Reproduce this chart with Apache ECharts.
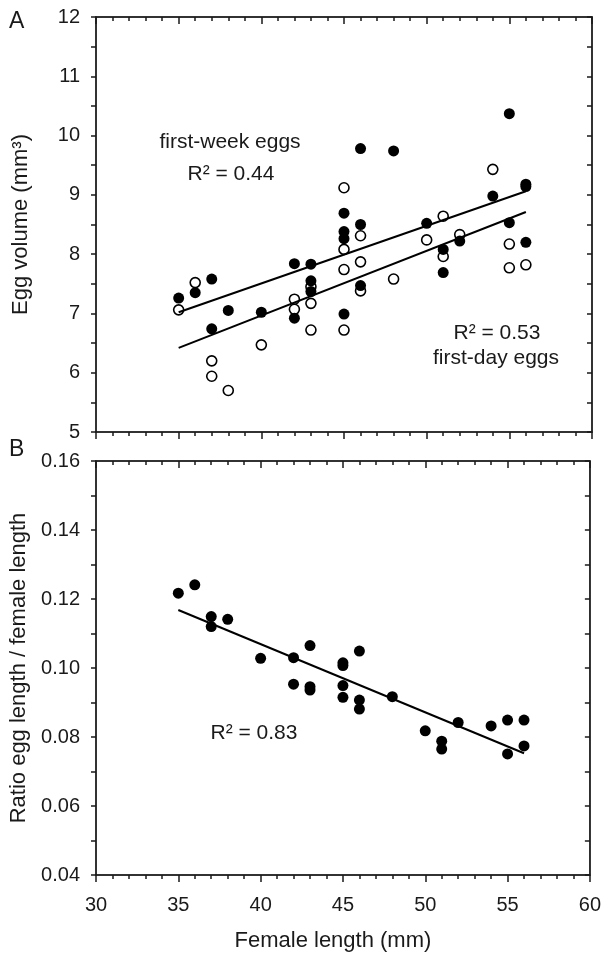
<!DOCTYPE html>
<html>
<head>
<meta charset="utf-8">
<script src="https://cdn.jsdelivr.net/npm/echarts@6/dist/echarts.min.js"></script>
<style>
  html, body { margin: 0; padding: 0; background: #fff; }
  #chart { width: 604px; height: 960px; }
</style>
</head>
<body>
<div id="chart"></div>
<script>
// panel A: egg volume (mm3) vs female length (mm)
var weekEggs = [[35,7.26],[36,7.35],[37,7.58],[37,6.74],[38,7.05],[40,7.02],[42,7.84],[42,6.92],
  [43,7.83],[43,7.55],[43,7.37],[45,8.69],[45,8.38],[45,8.26],[45,6.99],[46,9.78],[46,8.50],[46,7.47],
  [48,9.74],[50,8.52],[51,8.08],[51,7.69],[52,8.22],[54,8.98],[55,10.37],[55,8.53],[56,9.18],[56,9.14],[56,8.20]];
var dayEggs = [[35,7.06],[36,7.52],[37,6.20],[37,5.94],[38,5.70],[40,6.47],[42,7.24],[42,7.07],
  [43,7.45],[43,7.17],[43,6.72],[45,9.12],[45,8.08],[45,7.74],[45,6.72],[46,8.31],[46,7.87],[46,7.38],
  [48,7.58],[50,8.24],[51,8.64],[51,7.96],[52,8.33],[54,9.43],[55,8.17],[55,7.77],[56,7.82]];
var weekFit = [[35,7.02],[56,9.06]];
var dayFit = [[35,6.42],[56,8.71]];

// panel B: ratio egg length / female length
var ratio = [[35,0.1217],[36,0.1241],[37,0.1149],[37,0.1120],[38,0.1141],[40,0.1028],[42,0.1030],[42,0.0953],
  [43,0.1065],[43,0.0946],[43,0.0936],[45,0.1015],[45,0.1007],[45,0.0949],[45,0.0915],[46,0.1049],
  [46,0.0907],[46,0.0881],[48,0.0917],[50,0.0818],[51,0.0788],[51,0.0765],[52,0.0842],[54,0.0832],
  [55,0.0849],[55,0.0751],[56,0.0849],[56,0.0774]];
var ratioFit = [[35,0.1168],[56,0.0753]];

var xRange = [30, 60];
var yRangeA = [5, 12];
var yRangeB = [0.04, 0.16];

var font = 'Liberation Sans, Arial, sans-serif';
var ink = '#1a1a1a';

// every axis is drawn twice (outward + inward ticks) to get crossing ticks
function xAx(grid, inside, labels) {
  var ax = {
    type: 'value', gridIndex: grid, min: xRange[0], max: xRange[1], interval: 5,
    axisLine: { lineStyle: { color: ink, width: 1.5 } },
    axisTick: { inside: inside, length: 7, lineStyle: { color: ink, width: 1.5 } },
    minorTick: { show: true, splitNumber: 5, length: 4, lineStyle: { color: ink, width: 1.5 } },
    axisLabel: { show: labels, color: ink, fontSize: 20, fontFamily: font, margin: 20 },
    splitLine: { show: false }
  };
  if (labels) {
    ax.name = 'Female length (mm)';
    ax.nameLocation = 'middle';
    ax.nameGap = 55;
    ax.nameTextStyle = { color: ink, fontSize: 22, fontFamily: font, padding: [0, 20, 0, 0] };
  }
  return ax;
}
function yAx(grid, inside, labels, range, step, name, fmt) {
  var ax = {
    type: 'value', gridIndex: grid, min: range[0], max: range[1], interval: step,
    axisLine: { lineStyle: { color: ink, width: 1.5 } },
    axisTick: { inside: inside, length: 5, lineStyle: { color: ink, width: 1.5 } },
    minorTick: { show: true, splitNumber: 2, length: 5, lineStyle: { color: ink, width: 1.5 } },
    axisLabel: { show: labels, color: ink, fontSize: 20, fontFamily: font, margin: 16, formatter: fmt },
    splitLine: { show: false }
  };
  if (labels) {
    ax.name = name;
    ax.nameLocation = 'middle';
    ax.nameGap = 64;
    ax.nameTextStyle = { color: ink, fontSize: 22, fontFamily: font };
  }
  return ax;
}

var chart = echarts.init(document.getElementById('chart'));
var option = {
  backgroundColor: '#fff',
  animation: false,
  grid: [
    { left: 96, top: 17, width: 496, height: 415, show: true, borderColor: '#555', borderWidth: 1.5 },
    { left: 96, top: 461, width: 496, height: 414, show: true, borderColor: '#555', borderWidth: 1.5 }
  ],
  xAxis: [xAx(0, false, false), xAx(0, true, false), xAx(1, false, true), xAx(1, true, false)],
  yAxis: [
    yAx(0, false, true, yRangeA, 1, 'Egg volume (mm³)', function (v) { return String(v); }),
    yAx(0, true, false, yRangeA, 1),
    yAx(1, false, true, yRangeB, 0.02, 'Ratio egg length / female length', function (v) { return v.toFixed(2); }),
    yAx(1, true, false, yRangeB, 0.02)
  ],
  series: [
    { type: 'scatter', name: 'first-day eggs', xAxisIndex: 0, yAxisIndex: 0, data: dayEggs,
      symbol: 'circle', symbolSize: 10, z: 3,
      itemStyle: { color: '#fff', borderColor: '#000', borderWidth: 1.6, opacity: 1 } },
    { type: 'scatter', name: 'first-week eggs', xAxisIndex: 0, yAxisIndex: 0, data: weekEggs,
      symbol: 'circle', symbolSize: 11, z: 4, itemStyle: { color: '#000', opacity: 1 } },
    { type: 'line', xAxisIndex: 0, yAxisIndex: 0, data: weekFit, symbol: 'none', z: 5,
      lineStyle: { color: '#000', width: 2 } },
    { type: 'line', xAxisIndex: 0, yAxisIndex: 0, data: dayFit, symbol: 'none', z: 5,
      lineStyle: { color: '#000', width: 2 } },
    { type: 'scatter', xAxisIndex: 2, yAxisIndex: 2, data: ratio,
      symbol: 'circle', symbolSize: 11, z: 4, itemStyle: { color: '#000', opacity: 1 } },
    { type: 'line', xAxisIndex: 2, yAxisIndex: 2, data: ratioFit, symbol: 'none', z: 5,
      lineStyle: { color: '#000', width: 2 } }
  ],
  graphic: [
    { type: 'text', left: 9, top: 10, style: { text: 'A', font: '23px ' + font, fill: ink } },
    { type: 'text', left: 9, top: 438, style: { text: 'B', font: '23px ' + font, fill: ink } },
    { type: 'text', x: 230, y: 142, style: { text: 'first-week eggs', font: '21px ' + font, fill: ink, align: 'center', verticalAlign: 'middle' } },
    { type: 'text', x: 231, y: 174, style: { text: 'R² = 0.44', font: '21px ' + font, fill: ink, align: 'center', verticalAlign: 'middle' } },
    { type: 'text', x: 497, y: 333, style: { text: 'R² = 0.53', font: '21px ' + font, fill: ink, align: 'center', verticalAlign: 'middle' } },
    { type: 'text', x: 496, y: 358, style: { text: 'first-day eggs', font: '21px ' + font, fill: ink, align: 'center', verticalAlign: 'middle' } },
    { type: 'text', x: 254, y: 733, style: { text: 'R² = 0.83', font: '21px ' + font, fill: ink, align: 'center', verticalAlign: 'middle' } }
  ]
};
chart.setOption(option);
</script>
</body>
</html>
